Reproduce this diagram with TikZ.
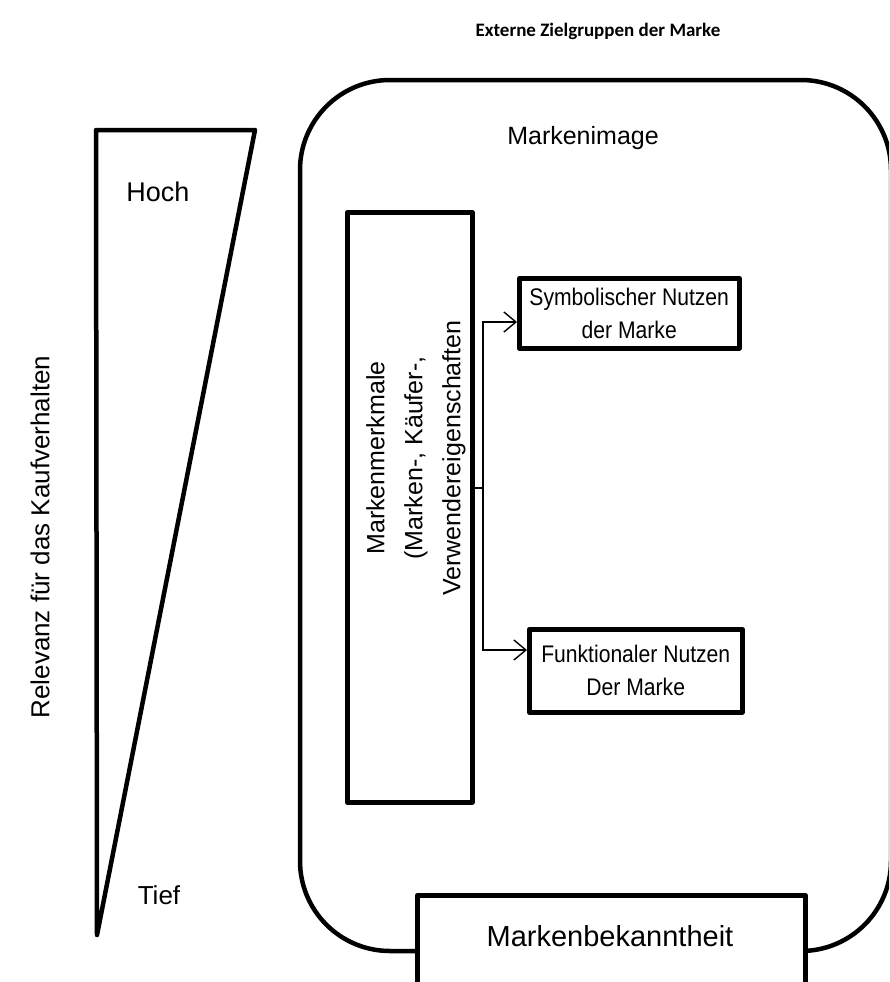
\documentclass[tikz,border=0pt]{standalone}
\usepackage{fontspec}
\setmainfont{Liberation Sans}
\newfontfamily\headfont{Carlito}
\usetikzlibrary{arrows.meta}

\begin{document}
\begin{tikzpicture}[x=1pt,y=-1pt,
  heavy/.style={line width=4.5pt, line join=round},
  txt/.style={font=\fontsize{24}{37}\selectfont, inner sep=0pt, align=center},
  framebox/.style={draw, heavy, fill=white, inner sep=0pt, anchor=north west},
  link/.style={line width=1.4pt},
  tip/.style={-{Straight Barb[length=12pt,width=20pt,line width=1.4pt]}}
]
\useasboundingbox (0,0) rectangle (889,982);
\clip (0,0) rectangle (889,982);

% heading
\node[font=\headfont\bfseries\fontsize{19}{22}\selectfont, inner sep=0pt] (title) at (598,31) {Externe Zielgruppen der Marke};

% relevance wedge
\draw[heavy] (96,130) -- (255,130) -- (97,935) -- cycle;
\node[txt, font=\fontsize{27}{30}\selectfont] (hoch) at (158,192) {Hoch};
\node[txt, font=\fontsize{26}{30}\selectfont] (tief) at (159,895) {Tief};
\node[txt, font=\fontsize{26}{30}\selectfont, rotate=90] (relevanz) at (40,537) {Relevanz für das Kaufverhalten};

% brand image frame
\draw[heavy, rounded corners=90pt] (300,80) rectangle (891,951);
\node[txt, font=\fontsize{25}{30}\selectfont] (image) at (583,138) {Markenimage};

% brand attributes
\node[framebox, minimum width=125pt, minimum height=590pt] (merkmale) at (345,210) {};
\node[txt, font=\fontsize{25}{38}\selectfont, rotate=90] (merkmaltxt) at (416,458) {Markenmerkmale\\(Marken-, Käufer-,\\Verwendereigenschaften};

% benefits
\node[framebox, minimum width=220pt, minimum height=70pt] (symb) at (517,276) {};
\node[txt, font=\fontsize{24}{33}\selectfont, xscale=0.88, transform shape] (symbtxt) at (symb.center) {Symbolischer Nutzen\\der Marke};
\node[framebox, minimum width=213pt, minimum height=83pt] (funk) at (527,627) {};
\node[txt, font=\fontsize{24}{33}\selectfont, xscale=0.88, transform shape] (funktxt) at (funk.center) {Funktionaler Nutzen\\Der Marke};

% branching connector
\coordinate (fork) at (483,488);
\draw[link] (merkmale.east |- fork) -- (fork);
\draw[link, tip] (fork) |- (symb.west |- 0,322);
\draw[link, tip] (fork) |- (funk.west |- 0,650);

% brand awareness
\node[framebox, minimum width=388pt, minimum height=110pt] (bekannt) at (415,893) {};
\node[txt, font=\fontsize{29}{32}\selectfont] (bekannttxt) at (610,936) {Markenbekanntheit};
\end{tikzpicture}
\end{document}
